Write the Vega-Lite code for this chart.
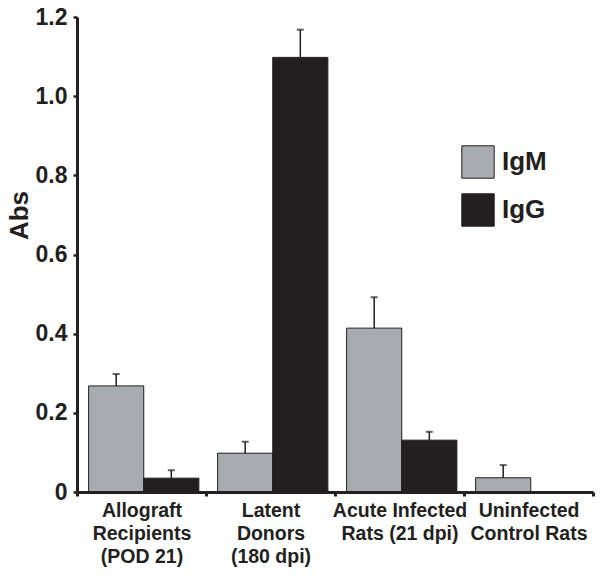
{
  "$schema": "https://vega.github.io/schema/vega-lite/v6.json",
  "width": 516,
  "height": 475,
  "autosize": "none",
  "padding": {"left": 77, "top": 17, "right": 8, "bottom": 83},
  "background": "white",
  "config": {"view": {"stroke": null}, "font": "Liberation Sans"},
  "data": {
    "values": [
      {"group": "Allograft|Recipients|(POD 21)", "isotype": "IgM", "value": 0.268, "upper": 0.298},
      {"group": "Allograft|Recipients|(POD 21)", "isotype": "IgG", "value": 0.035, "upper": 0.055},
      {"group": "Latent|Donors|(180 dpi)", "isotype": "IgM", "value": 0.098, "upper": 0.127},
      {"group": "Latent|Donors|(180 dpi)", "isotype": "IgG", "value": 1.098, "upper": 1.168},
      {"group": "Acute Infected|Rats (21 dpi)", "isotype": "IgM", "value": 0.414, "upper": 0.492},
      {"group": "Acute Infected|Rats (21 dpi)", "isotype": "IgG", "value": 0.131, "upper": 0.152},
      {"group": "Uninfected|Control Rats", "isotype": "IgM", "value": 0.036, "upper": 0.068},
      {"group": "Uninfected|Control Rats", "isotype": "IgG", "value": 0, "upper": null}
    ]
  },
  "encoding": {
    "x": {
      "field": "group",
      "type": "nominal",
      "sort": ["Allograft|Recipients|(POD 21)", "Latent|Donors|(180 dpi)", "Acute Infected|Rats (21 dpi)", "Uninfected|Control Rats"],
      "scale": {"paddingInner": 0, "paddingOuter": 0},
      "axis": {
        "title": null,
        "labelExpr": "split(datum.label, '|')",
        "labelAngle": 0,
        "labelFontSize": 19.5,
        "labelFontWeight": "bold",
        "labelColor": "#231f20",
        "labelLineHeight": 23,
        "labelPadding": 5,
        "labelBaseline": "top",
        "tickBand": "extent",
        "tickSize": 4,
        "tickWidth": 3,
        "tickColor": "#231f20",
        "domainWidth": 3,
        "domainColor": "#231f20",
        "zindex": 1
      }
    },
    "xOffset": {
      "field": "isotype",
      "type": "nominal",
      "sort": ["IgM", "IgG"],
      "scale": {"paddingOuter": 0.17, "paddingInner": 0, "align": 0.62}
    }
  },
  "layer": [
    {
      "mark": {"type": "bar", "stroke": "#231f20", "strokeWidth": 1},
      "encoding": {
        "y": {
          "field": "value",
          "type": "quantitative",
          "scale": {"domain": [0, 1.2], "nice": false},
          "axis": {
            "values": [0, 0.2, 0.4, 0.6, 0.8, 1.0, 1.2],
            "labelExpr": "datum.value == 0 ? '0' : format(datum.value, '.1f')",
            "labelFontSize": 23,
            "labelFontWeight": "bold",
            "labelColor": "#231f20",
            "labelPadding": 6,
            "tickSize": 4,
            "tickWidth": 2.5,
            "tickColor": "#231f20",
            "domainWidth": 3,
            "domainColor": "#231f20",
            "grid": false,
            "title": "Abs",
            "titleFontSize": 26,
            "titleFontWeight": "bold",
            "titleColor": "#231f20",
            "titleAngle": -90,
            "titleX": -50,
            "titleY": 198,
            "titleAlign": "center",
            "titleBaseline": "alphabetic",
            "zindex": 1
          }
        },
        "color": {
          "field": "isotype",
          "type": "nominal",
          "scale": {"domain": ["IgM", "IgG"], "range": ["#a8acb1", "#231f20"]},
          "legend": {
            "title": null,
            "orient": "none",
            "legendX": 384,
            "legendY": 128,
            "symbolType": "square",
            "symbolSize": 1050,
            "symbolStrokeColor": "#231f20",
            "symbolStrokeWidth": 1,
            "symbolOpacity": 1,
            "labelFontSize": 26,
            "labelFontWeight": "bold",
            "labelColor": "#231f20",
            "labelOffset": 7,
            "rowPadding": 10
          }
        }
      }
    },
    {
      "transform": [{"filter": "datum.upper != null"}],
      "mark": {"type": "rule", "color": "#231f20", "strokeWidth": 1.5},
      "encoding": {
        "y": {"field": "value", "type": "quantitative"},
        "y2": {"field": "upper"}
      }
    },
    {
      "transform": [{"filter": "datum.upper != null"}],
      "mark": {"type": "tick", "color": "#231f20", "size": 7, "thickness": 2, "orient": "horizontal"},
      "encoding": {
        "y": {"field": "upper", "type": "quantitative"}
      }
    }
  ]
}
